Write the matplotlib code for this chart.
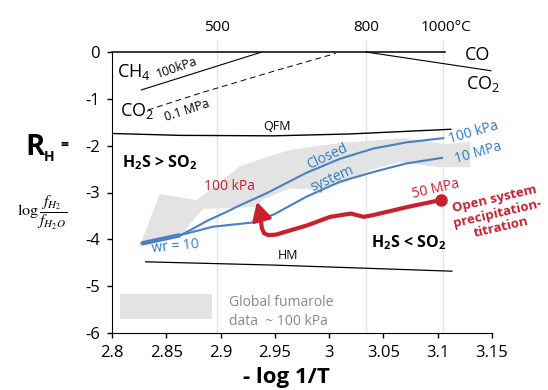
import matplotlib
matplotlib.use('Agg')
import matplotlib.pyplot as plt
from matplotlib.patches import Polygon, Rectangle

plt.rcParams['font.family'] = ['Open Sans', 'DejaVu Sans']
plt.rcParams['axes.unicode_minus'] = False
plt.rcParams['mathtext.fontset'] = 'custom'
plt.rcParams['mathtext.rm'] = 'Open Sans'
plt.rcParams['mathtext.it'] = 'Open Sans:italic'
plt.rcParams['mathtext.bf'] = 'Open Sans:bold'

# x = -log 1/T, y = R_H
xticks = [2.8, 2.85, 2.9, 2.95, 3.0, 3.05, 3.1, 3.15]
xtick_labels = ['2.8', '2.85', '2.9', '2.95', '3', '3.05', '3.1', '3.15']
yticks = [-6, -5, -4, -3, -2, -1, 0]

# temperature marks on the top
temp_x = [2.897, 3.034, 3.105]
temp_labels = ['500', '800', '1000°C']

# buffer lines
co_top_x = [2.8, 3.107]
co_top_y = [0.0, 0.0]
ch4_x = [2.827, 2.938]
ch4_y = [-0.81, 0.0]
co_co2_x = [3.034, 3.149]
co_co2_y = [0.0, -0.40]
co2_dash_x = [2.833, 2.881, 2.949, 3.006]
co2_dash_y = [-1.24, -0.88, -0.41, -0.03]
qfm_x = [2.8, 2.863, 2.949, 3.019, 3.112]
qfm_y = [-1.74, -1.78, -1.79, -1.75, -1.65]
hm_x = [2.831, 2.949, 3.113]
hm_y = [-4.48, -4.55, -4.68]

# global fumarole data envelope
band_x = [2.827, 2.844, 2.878, 2.918, 2.943, 2.964, 3.010, 3.047, 3.070, 3.107, 3.130,
          3.130, 3.102, 3.065, 3.038, 3.015, 2.992, 2.964, 2.938, 2.934, 2.884, 2.863, 2.827]
band_y = [-4.06, -3.03, -3.16, -2.44, -2.24, -2.09, -1.94, -1.88, -1.84, -1.97, -1.92,
          -2.46, -2.46, -2.35, -2.52, -2.78, -2.95, -2.91, -3.16, -3.31, -3.35, -3.91, -4.10]

# closed system, 100 kPa and 10 MPa
wr_x = [2.827, 2.863]
wr_y = [-4.09, -3.91]
closed_100kpa_x = [2.827, 2.863, 2.874, 2.888, 2.904, 2.920, 2.942, 2.979, 3.010, 3.041, 3.071, 3.105]
closed_100kpa_y = [-4.09, -3.91, -3.78, -3.60, -3.43, -3.25, -3.02, -2.58, -2.28, -2.06, -1.93, -1.84]
closed_10mpa_x = [2.863, 2.893, 2.930, 2.942, 2.949, 2.979, 3.010, 3.041, 3.071, 3.104]
closed_10mpa_y = [-3.91, -3.73, -3.64, -3.52, -3.47, -3.09, -2.77, -2.56, -2.38, -2.26]

# open system path, 50 MPa -> 100 kPa
open_x = [3.103, 3.072, 3.041, 3.032, 3.020, 3.001, 2.980, 2.951, 2.944, 2.940, 2.938, 2.9365]
open_y = [-3.16, -3.31, -3.48, -3.52, -3.45, -3.52, -3.70, -3.90, -3.91, -3.87, -3.76, -3.45]
arrow_tip = (2.9335, -3.20)

red = '#c8202f'
blue_line = '#4a7fc4'
blue_text = '#2e7bc6'
gray_fill = '#e3e3e3'

fig = plt.figure(figsize=(5.48, 3.90), dpi=100)
ax = fig.add_axes([112 / 548, 57 / 390, 380 / 548, 281 / 390])
ax.set_xlim(2.8, 3.15)
ax.set_ylim(-6, 0)
for s in ['top', 'right']:
    ax.spines[s].set_visible(False)
ax.set_xticks(xticks)
ax.set_xticklabels(xtick_labels)
ax.set_yticks(yticks)
ax.tick_params(direction='out', length=3.5, width=1, labelsize=12, pad=5)

# gridlines for temperatures
for tx in temp_x:
    ax.plot([tx, tx], [-6, 0.26], color='#e4e4e4', lw=1, zorder=0, clip_on=False)
ax.text(temp_x[0], 0.53, temp_labels[0], ha='center', va='center', fontsize=11)
ax.text(temp_x[1], 0.53, temp_labels[1], ha='center', va='center', fontsize=11)
ax.text(3.0845, 0.53, temp_labels[2], ha='left', va='center', fontsize=11)

ax.add_patch(Polygon(list(zip(band_x, band_y)), closed=True, facecolor=gray_fill,
                     edgecolor='none', zorder=1))

ax.plot(co_top_x, co_top_y, color='black', lw=1.1, clip_on=False, zorder=3)
ax.plot(ch4_x, ch4_y, color='black', lw=0.8, zorder=3)
ax.plot(co_co2_x, co_co2_y, color='black', lw=0.8, clip_on=False, zorder=3)
ax.plot(co2_dash_x, co2_dash_y, color='black', lw=0.7, ls=(0, (6, 4)), zorder=3)
ax.plot(qfm_x, qfm_y, color='black', lw=1.0, zorder=3)
ax.plot(hm_x, hm_y, color='black', lw=0.9, zorder=3)

ax.plot(wr_x, wr_y, color=blue_line, lw=3.2, solid_capstyle='butt', zorder=4)
ax.plot(closed_100kpa_x, closed_100kpa_y, color=blue_line, lw=1.5, zorder=4)
ax.plot(closed_10mpa_x, closed_10mpa_y, color=blue_line, lw=1.5, zorder=4)

ax.plot(open_x, open_y, color=red, lw=3, solid_joinstyle='round', zorder=5)
ax.plot(open_x[0], open_y[0], 'o', color=red, ms=8, zorder=6)
ax.annotate('', xy=arrow_tip, xytext=(open_x[-1], open_y[-1]),
            arrowprops=dict(arrowstyle='-|>,head_length=0.55,head_width=0.3',
                            mutation_scale=20, color=red, lw=2.5,
                            shrinkA=0, shrinkB=0), zorder=6)

# legend for the gray band
ax.add_patch(Rectangle((2.8074, -5.70), 0.0843, 0.53, facecolor=gray_fill,
                       edgecolor='none', zorder=1))
ax.text(2.908, -5.34, 'Global fumarole', color='#888888', fontsize=10, va='center')
ax.text(2.908, -5.76, 'data  ~ 100 kPa', color='#888888', fontsize=10, va='center')

# labels on the chart
ax.text(2.8046, -0.43, r'$\mathrm{CH_4}$', fontsize=13, va='center')
ax.text(2.860, -0.34, '100kPa', fontsize=9, rotation=19, ha='center', va='center')
ax.text(2.8074, -1.26, r'$\mathrm{CO_2}$', fontsize=13, va='center')
ax.text(2.869, -1.25, '0.1 MPa', fontsize=9, rotation=18, ha='center', va='center')
ax.text(3.125, -0.06, 'CO', fontsize=13, va='center', clip_on=False)
ax.text(3.126, -0.68, r'$\mathrm{CO_2}$', fontsize=13, va='center', clip_on=False)
ax.text(2.952, -1.60, 'QFM', fontsize=9, ha='center', va='center')
ax.text(2.962, -4.34, 'HM', fontsize=9, ha='center', va='center')
ax.text(2.809, -2.37, r'$\mathbf{H_2S}$ > $\mathbf{SO_2}$', fontsize=11.5,
        fontweight='bold', va='center')
ax.text(3.073, -4.08, r'$\mathbf{H_2S}$ < $\mathbf{SO_2}$', fontsize=11.5,
        fontweight='bold', ha='center', va='center')

ax.text(3.133, -1.73, '100 kPa', color=blue_text, fontsize=10, rotation=16,
        ha='center', va='center', clip_on=False)
ax.text(3.137, -2.16, '10 MPa', color=blue_text, fontsize=10, rotation=16,
        ha='center', va='center', clip_on=False)
ax.text(2.998, -2.24, 'Closed', color=blue_text, fontsize=10, rotation=25,
        ha='center', va='center')
ax.text(3.003, -2.71, 'system', color=blue_text, fontsize=10, rotation=24,
        ha='center', va='center')
ax.text(2.858, -4.16, 'wr = 10', color=blue_text, fontsize=10, rotation=5,
        ha='center', va='center')

ax.text(2.908, -2.88, '100 kPa', color=red, fontsize=10, ha='center', va='center')
ax.text(3.098, -2.93, '50 MPa', color=red, fontsize=10, rotation=13,
        ha='center', va='center')
ax.text(3.155, -3.44, 'Open system\nprecipitation-\ntitration', color=red,
        fontsize=9.5, fontweight='bold', rotation=13, ha='center', va='center',
        linespacing=1.15, clip_on=False)

# axis titles
fig.text(286 / 548, 1 - 377 / 390, '- log 1/T', fontsize=16, fontweight='bold',
         ha='center', va='center')
fig.text(25 / 548, 1 - 155 / 390, 'R', fontsize=21, fontweight='bold',
         ha='left', va='baseline')
fig.text(44 / 548, 1 - 161 / 390, 'H', fontsize=10, fontweight='bold',
         ha='left', va='baseline')
fig.text(64 / 548, 1 - 145 / 390, '=', fontsize=10, fontweight='bold',
         ha='center', va='center')
fig.text(42 / 548, 1 - 213 / 390, r'$\log\dfrac{f_{H_2}}{f_{H_2O}}$', fontsize=11.5,
         ha='center', va='center', math_fontfamily='stix')

fig.savefig('out.png', dpi=100)
